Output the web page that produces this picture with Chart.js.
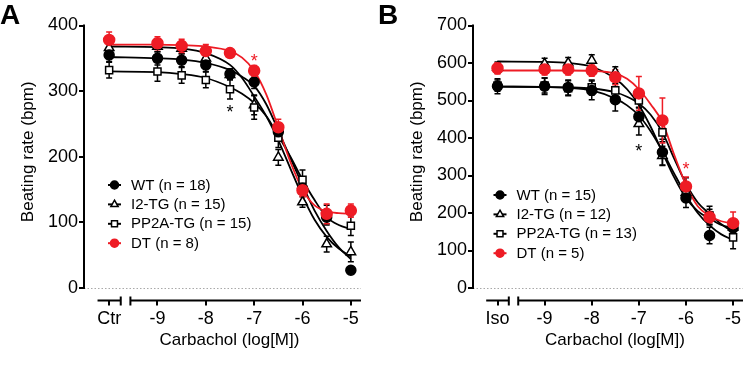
<!DOCTYPE html>
<html>
<head>
<meta charset="utf-8">
<script src="https://cdn.jsdelivr.net/npm/chart.js@4.4.1/dist/chart.umd.min.js"></script>
<style>
  html, body { margin: 0; padding: 0; background: #fff; }
  #wrap { display: flex; width: 750px; height: 388px; }
</style>
</head>
<body>
<div id="wrap">
  <canvas id="chartA" width="375" height="388"></canvas>
  <canvas id="chartB" width="375" height="388"></canvas>
</div>
<script>
const FONT = '"Liberation Sans", Arial, Helvetica, sans-serif';
const RED = '#ee1c25';

// x positions (log M); -10 is the control / Iso column
const doseLog = [-10, -9, -8.5, -8, -7.5, -7, -6.5, -6, -5.5, -5];
const fitLog = [-10, -9, -8.5, -8, -7.5, -7.25, -7, -6.75, -6.5, -6.25, -6, -5.75, -5.5, -5.25, -5];
const xTicks = [-10, -9, -8, -7, -6, -5];
const yTicksA = [0, 100, 200, 300, 400];
const yTicksB = [0, 100, 200, 300, 400, 500, 600, 700];
const groupNames = ['WT', 'I2-TG', 'PP2A-TG', 'DT'];
const nA = [18, 15, 15, 8];
const nB = [15, 12, 13, 5];

// panel A - means, SEM, fitted curve
const wtA = [355, 350, 347, 340, 326, 314, 238, 152, 108, 27];
const wtAErr = [10, 10, 10, 10, 8, 10, 10, 10, 10, 3];
const wtAFit = [352, 350, 348, 343, 332, 322, 308, 280, 240, 198, 157, 118, 87, 62, 44];
const i2A = [366, 368, 365, 350, 325, 279, 199, 131, 67, 55];
const i2AErr = [8, 8, 8, 8, 8, 15, 12, 8, 12, 15];
const i2AFit = [368, 367, 365, 358, 340, 320, 292, 262, 225, 182, 140, 104, 78, 60, 48];
const ppA = [332, 330, 324, 317, 303, 275, 229, 165, 111, 95];
const ppAErr = [12, 15, 12, 12, 15, 18, 15, 15, 15, 15];
const ppAFit = [330, 329, 326, 320, 306, 296, 282, 262, 232, 200, 165, 134, 108, 96, 90];
const dtA = [378, 373, 369, 361, 358, 331, 245, 149, 113, 118];
const dtAErr = [12, 10, 10, 10, 5, 8, 12, 10, 15, 10];
const dtAFit = [371, 371, 370, 368, 361, 351, 331, 295, 244, 192, 150, 126, 117, 114, 113];

// panel B
const wtB = [538, 538, 535, 527, 502, 457, 362, 240, 140, 160];
const wtBErr = [20, 22, 20, 25, 30, 25, 35, 25, 22, 15];
const wtBFit = [537, 536, 534, 527, 505, 487, 460, 418, 365, 305, 248, 200, 167, 143, 128];
const i2B = [588, 598, 600, 607, 575, 438, 353, 255, 190, 162];
const i2BErr = [15, 15, 15, 15, 15, 30, 25, 25, 20, 20];
const i2BFit = [604, 603, 600, 590, 558, 530, 488, 430, 362, 295, 240, 205, 185, 168, 160];
const ppB = [540, 540, 533, 535, 527, 500, 415, 269, 193, 135];
const ppBErr = [15, 20, 20, 20, 18, 20, 25, 25, 25, 30];
const ppBFit = [537, 536, 535, 532, 522, 510, 492, 462, 415, 345, 278, 228, 198, 170, 150];
const dtB = [586, 583, 583, 580, 562, 519, 447, 271, 189, 173];
const dtBErr = [15, 15, 15, 15, 20, 45, 60, 25, 15, 30];
const dtBFit = [580, 580, 580, 579, 572, 558, 530, 490, 442, 355, 275, 218, 192, 178, 172];

// significance marks: [x, y, colour]
const starsA = [[-7.5, 275, '#000'], [-7, 352, RED]];
const starsB = [[-7, 375, '#000'], [-6, 327, RED]];

const styles = [
  { pointStyle: 'circle', radius: 5, fill: '#000', line: '#000', order: 1 },
  { pointStyle: 'triangle', radius: 5.5, fill: '#fff', line: '#000', order: 3 },
  { pointStyle: 'rect', radius: 5, fill: '#fff', line: '#000', order: 2 },
  { pointStyle: 'circle', radius: 5.5, fill: RED, line: RED, order: 0 }
];

function buildPanel(id, p) {
  const datasets = [];
  p.groups.forEach((g, i) => {
    const st = styles[i];
    datasets.push({
      label: groupNames[i] + ' fit',
      data: fitLog.map((x, k) => ({ x: x, y: g.fit[k] })),
      showLine: true,
      borderColor: st.line,
      borderWidth: 1.8,
      pointRadius: 0,
      cubicInterpolationMode: 'monotone',
      order: 10 + st.order
    });
    datasets.push({
      label: groupNames[i],
      data: doseLog.map((x, k) => ({ x: x, y: g.mean[k] })),
      showLine: false,
      pointStyle: st.pointStyle,
      pointRadius: st.radius,
      pointBackgroundColor: st.fill,
      pointBorderColor: st.line,
      pointBorderWidth: 1.5,
      order: st.order
    });
  });

  const decor = {
    id: 'decor',
    beforeDatasetsDraw(chart) {
      const { ctx, chartArea: ca, scales: { x, y } } = chart;
      ctx.save();
      // dotted zero line
      ctx.strokeStyle = '#a8a8a8';
      ctx.lineWidth = 1;
      ctx.setLineDash([1.5, 2]);
      ctx.beginPath();
      ctx.moveTo(ca.left, y.getPixelForValue(0) + 0.5);
      ctx.lineTo(ca.right, y.getPixelForValue(0) + 0.5);
      ctx.stroke();
      ctx.setLineDash([]);
      // error bars
      ctx.lineWidth = 1.5;
      p.groups.forEach((g, i) => {
        ctx.strokeStyle = styles[i].line;
        doseLog.forEach((d, k) => {
          const px = x.getPixelForValue(d);
          const y1 = y.getPixelForValue(g.mean[k] - g.err[k]);
          const y2 = y.getPixelForValue(g.mean[k] + g.err[k]);
          ctx.beginPath();
          ctx.moveTo(px, y1); ctx.lineTo(px, y2);
          ctx.moveTo(px - 3, y1); ctx.lineTo(px + 3, y1);
          ctx.moveTo(px - 3, y2); ctx.lineTo(px + 3, y2);
          ctx.stroke();
        });
      });
      ctx.restore();
    },
    afterDraw(chart) {
      const { ctx, chartArea: ca, scales: { x, y } } = chart;
      ctx.save();
      ctx.strokeStyle = '#000';
      ctx.lineWidth = 2;
      // y axis line, 0 to top
      ctx.beginPath();
      ctx.moveTo(ca.left, y.getPixelForValue(0) + 1);
      ctx.lineTo(ca.left, y.getPixelForValue(p.yMax) - 1);
      ctx.stroke();
      // broken x axis
      const by = ca.bottom;
      const e1 = x.getPixelForValue(-9.76), s2 = x.getPixelForValue(-9.56);
      ctx.beginPath();
      ctx.moveTo(x.getPixelForValue(-10.24), by); ctx.lineTo(e1, by);
      ctx.moveTo(s2, by); ctx.lineTo(ca.right, by);
      ctx.moveTo(e1, by - 4); ctx.lineTo(e1, by + 5);
      ctx.moveTo(s2, by - 4); ctx.lineTo(s2, by + 5);
      ctx.stroke();

      // significance stars
      ctx.font = '18px ' + FONT;
      ctx.textAlign = 'center';
      ctx.textBaseline = 'alphabetic';
      p.stars.forEach(s => {
        ctx.fillStyle = s[2];
        ctx.fillText('*', x.getPixelForValue(s[0]), y.getPixelForValue(s[1]) + 10);
      });

      // axis titles
      ctx.fillStyle = '#000';
      ctx.font = '17px ' + FONT;
      ctx.textBaseline = 'middle';
      ctx.fillText('Carbachol (log[M])', (ca.left + ca.right) / 2 + 7, 340);
      ctx.save();
      ctx.translate(ca.left - 56, (y.getPixelForValue(0) + y.getPixelForValue(p.yMax)) / 2 - 5);
      ctx.rotate(-Math.PI / 2);
      ctx.fillText('Beating rate (bpm)', 0, 0);
      ctx.restore();

      // panel letter
      ctx.font = 'bold 28px ' + FONT;
      ctx.textAlign = 'left';
      ctx.textBaseline = 'alphabetic';
      ctx.fillText(p.letter, p.letterX, 24);

      // legend
      ctx.font = '15px ' + FONT;
      ctx.textBaseline = 'middle';
      p.groups.forEach((g, i) => {
        const st = styles[i];
        const ly = p.legY + i * 19.4;
        ctx.strokeStyle = st.line;
        ctx.lineWidth = 2;
        ctx.beginPath();
        ctx.moveTo(p.legX, ly); ctx.lineTo(p.legX + 13, ly);
        ctx.stroke();
        ctx.fillStyle = st.fill;
        ctx.lineWidth = 1.5;
        Chart.helpers.drawPoint(ctx, { pointStyle: st.pointStyle, radius: st.pointStyle === 'circle' ? 4 : 4.2, rotation: 0, borderWidth: 1.5 }, p.legX + 6.5, ly);
        ctx.fillStyle = '#000';
        ctx.fillText(groupNames[i] + ' (n = ' + p.n[i] + ')', p.legX + 23, ly + 0.5);
      });
      ctx.restore();
    }
  };

  new Chart(document.getElementById(id), {
    type: 'scatter',
    data: { datasets: datasets },
    options: {
      responsive: false,
      animation: false,
      layout: { padding: { top: 25.5, right: p.padRight, left: 0, bottom: 0 } },
      plugins: { legend: { display: false }, tooltip: { enabled: false } },
      scales: {
        x: {
          type: 'linear',
          min: -10.52,
          max: -4.79,
          afterBuildTicks: s => { s.ticks = xTicks.map(v => ({ value: v })); },
          afterFit: s => { s.height = 87.5; },
          ticks: {
            font: { family: FONT, size: 18 },
            color: '#000',
            padding: 3,
            maxRotation: 0,
            autoSkip: false,
            callback: v => (v === -10 ? p.ctrl : String(v))
          },
          grid: { drawOnChartArea: false, tickLength: 5, color: '#000', lineWidth: 2 },
          border: { display: false }
        },
        y: {
          min: p.yMin,
          max: p.yMax,
          afterBuildTicks: s => { s.ticks = p.yTicks.map(v => ({ value: v })); },
          afterFit: s => { s.width = p.axisLeft; },
          ticks: { font: { family: FONT, size: 18 }, color: '#000', padding: 1 },
          grid: { drawOnChartArea: false, tickLength: 5, color: '#000', lineWidth: 2 },
          border: { display: false }
        }
      }
    },
    plugins: [decor]
  });
}

buildPanel('chartA', {
  letter: 'A', letterX: 0, ctrl: 'Ctr',
  yMin: -19, yMax: 400, yTicks: yTicksA, axisLeft: 84, padRight: 14,
  legX: 108, legY: 185, n: nA, stars: starsA,
  groups: [
    { mean: wtA, err: wtAErr, fit: wtAFit },
    { mean: i2A, err: i2AErr, fit: i2AFit },
    { mean: ppA, err: ppAErr, fit: ppAFit },
    { mean: dtA, err: dtAErr, fit: dtAFit }
  ]
});

buildPanel('chartB', {
  letter: 'B', letterX: 3, ctrl: 'Iso',
  yMin: -33.3, yMax: 700, yTicks: yTicksB, axisLeft: 98, padRight: 0,
  legX: 118.5, legY: 195, n: nB, stars: starsB,
  groups: [
    { mean: wtB, err: wtBErr, fit: wtBFit },
    { mean: i2B, err: i2BErr, fit: i2BFit },
    { mean: ppB, err: ppBErr, fit: ppBFit },
    { mean: dtB, err: dtBErr, fit: dtBFit }
  ]
});
</script>
</body>
</html>
